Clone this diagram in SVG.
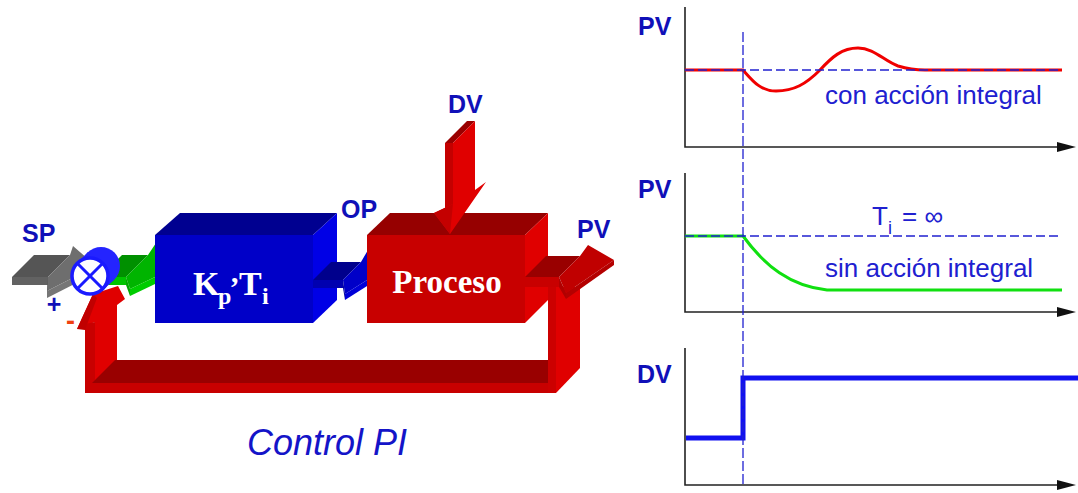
<svg xmlns="http://www.w3.org/2000/svg" width="1078" height="493" viewBox="0 0 1078 493">
<style>
.lbl{font-family:"Liberation Sans",Arial,sans-serif;font-weight:bold;fill:#1010b8;font-size:25px}
.cap{font-family:"Liberation Sans",Arial,sans-serif;fill:#2020d0;font-size:26px}
.boxt{font-family:"Liberation Serif","Times New Roman",serif;font-weight:bold;fill:#ffffff}
.axis{stroke:#222;stroke-width:1.6;fill:none}
.dash{stroke:#2020d0;stroke-width:1.3;stroke-dasharray:9 4;fill:none}
.rd{fill:#990000}.rm{fill:#c80000}.rb{fill:#e00000}
</style>
<rect width="1078" height="493" fill="#ffffff"/>

<g id="connectors">
  <!-- SP arrow -->
  <g id="sp-arrow">
    <polygon points="12,277 34,255 70,255 48,277" fill="#555555"/>
    <polygon points="48,277 70,255 73,246 96,266 47,291" fill="#6e6e6e"/>
    <polygon points="12,277 48,277 48,285 12,285" fill="#626262"/>
    <polygon points="48,277 47,291 47,298 48,285" fill="#5a5a5a"/>
    <polygon points="47,291 96,266 96,273 47,298" fill="#767676"/>
  </g>
  <!-- green arrow to controller -->
  <g id="e-arrow">
    <polygon points="100,277 122,255 148,255 126,277" fill="#009000"/>
    <polygon points="126,277 148,255 156,243 178,266 130,289" fill="#00b400"/>
    <polygon points="100,277 126,277 126,285 100,285" fill="#00c400"/>
    <polygon points="126,277 130,289 130,296 126,285" fill="#00a800"/>
    <polygon points="130,289 178,266 178,273 130,296" fill="#00cc00"/>
  </g>
  <!-- feedback loop -->
  <g id="feedback">
    <polygon class="rb" points="95,383 95,322 77,329 93,294 118,286 125,299 117,305 117,361"/>
    <polygon class="rm" points="85,324 95,322 95,393 85,393"/>
    <polygon fill="#c00000" points="77,329 93,294 97,298 85,330"/>
    <polygon class="rd" points="92,383 115,360 548,360 548,383"/>
    <polygon class="rm" points="85,383 556,383 556,393 85,393"/>
    <polygon class="rb" points="556,287 580,287 580,368 556,393"/>
    <polygon fill="#cc0000" points="548,287 556,287 556,393 548,393"/>
  </g>
</g>

<g id="sum-junction">
  <circle cx="101" cy="266" r="19" fill="#2424ff"/>
  <polygon points="103,290 114,280 88,252 77,263" fill="#2424ff"/>
  <circle cx="90" cy="276" r="18" fill="#ffffff" stroke="#1a1aff" stroke-width="3.5"/>
  <line x1="77.5" y1="263.5" x2="102.5" y2="288.5" stroke="#1a1aff" stroke-width="3"/>
  <line x1="102.5" y1="263.5" x2="77.5" y2="288.5" stroke="#1a1aff" stroke-width="3"/>
</g>

<g id="controller">
  <polygon points="155,235 180,213 337,213 313,235" fill="#000090"/>
  <polygon points="313,235 337,213 337,300 313,323" fill="#0000e6"/>
  <rect x="155" y="235" width="158" height="88" fill="#0000c8"/>
  <text class="boxt" font-size="34"><tspan x="193" y="295">K</tspan><tspan x="218" y="304" font-size="24">p</tspan><tspan x="231" y="282" font-size="30">,</tspan><tspan x="239" y="295">T</tspan><tspan x="262" y="304" font-size="24">i</tspan></text>
</g>

<g id="op-arrow">
  <polygon points="313,280 331,262 361,262 343,280" fill="#00008c"/>
  <polygon points="343,280 361,262 368,250 386,268 345,294" fill="#0000c8"/>
  <polygon points="313,280 343,280 343,288 313,288" fill="#0000b0"/>
  <polygon points="343,280 345,294 345,300 343,288" fill="#0000a0"/>
  <polygon points="345,294 386,268 386,274 345,300" fill="#0000d8"/>
</g>

<g id="process">
  <polygon points="367,235 390,213 548,213 525,235" fill="#960000"/>
  <polygon points="525,235 548,213 548,300 525,323" fill="#e00000"/>
  <rect x="367" y="235" width="158" height="88" fill="#c80000"/>
  <text class="boxt" x="447" y="293" font-size="33" text-anchor="middle">Proceso</text>
</g>

<g id="dv-arrow">
  <polygon points="445,143 453,143 475,121 467,121" fill="#990000"/>
  <polygon points="445,143 453,143 453,205 445,209" fill="#c40000"/>
  <polygon points="453,143 475,121 475,190 486,182 450,234 434,213 453,204" fill="#e00000"/>
  <polygon points="434,213 453,204 450,234" fill="#c40000"/>
</g>

<g id="pv-arrow">
  <polygon points="525,277 546,256 580,256 559,277" fill="#990000"/>
  <polygon points="525,277 559,277 559,287 525,287" fill="#c80000"/>
  <polygon points="559,277 580,256 588,245 614,260 566,293" fill="#c00000"/>
  <polygon points="559,277 566,293 566,299 559,287" fill="#b00000"/>
  <polygon points="566,293 614,260 614,265 566,299" fill="#b40000"/>
</g>

<g id="labels">
  <text class="lbl" x="22" y="242">SP</text>
  <text class="lbl" x="54" y="313" text-anchor="middle" font-size="26">+</text>
  <text x="66" y="330" font-family="Liberation Sans, sans-serif" font-weight="bold" font-size="27" fill="#f04010">-</text>
  <text class="lbl" x="341" y="218" font-size="23">OP</text>
  <text class="lbl" x="448" y="113">DV</text>
  <text class="lbl" x="577" y="238">PV</text>
  <text x="247" y="455" font-family="Liberation Sans, Arial, sans-serif" font-style="italic" font-size="36" fill="#1414c8">Control PI</text>
</g>

<g id="charts">
  <!-- chart 1 -->
  <text class="lbl" x="638" y="35" font-size="26">PV</text>
  <path class="axis" d="M685,7 L685,147 L1060,147"/>
  <polygon points="1057,142 1076,147 1057,152" fill="#111"/>
  <path d="M685,70 L743,70 C752,80 760,91 776,91 C794,91 806,84 820,70 C832,57 842,48 858,48 C874,48 884,61 898,66 C908,69 915,70 925,70 L1062,70" fill="none" stroke="#f00000" stroke-width="3"/>
  <line class="dash" x1="685" y1="70" x2="1062" y2="70"/>
  <text class="cap" x="825" y="104">con acción integral</text>

  <!-- chart 2 -->
  <text class="lbl" x="638" y="198" font-size="26">PV</text>
  <path class="axis" d="M685,173 L685,312 L1060,312"/>
  <polygon points="1057,307 1076,312 1057,317" fill="#111"/>
  <path d="M685,236 L743,236 C765,266 790,286 827,290 L1062,290" fill="none" stroke="#10e010" stroke-width="3"/>
  <line class="dash" x1="685" y1="236" x2="1062" y2="236"/>
  <text class="cap" font-size="25"><tspan x="872" y="225">T</tspan><tspan x="888" y="234" font-size="18">i</tspan><tspan x="902" y="225">= ∞</tspan></text>
  <text class="cap" x="825" y="277">sin acción integral</text>

  <!-- chart 3 -->
  <text class="lbl" x="637" y="383" font-size="26">DV</text>
  <path class="axis" d="M685,348 L685,485 L1060,485"/>
  <polygon points="1057,480 1076,485 1057,490" fill="#111"/>
  <path d="M686,438 L743,438 L743,378 L1078,378" fill="none" stroke="#1010f0" stroke-width="5"/>

  <line x1="743" y1="32" x2="743" y2="487" stroke="#2020d0" stroke-width="1.3" stroke-dasharray="10 3"/>
</g>
</svg>
